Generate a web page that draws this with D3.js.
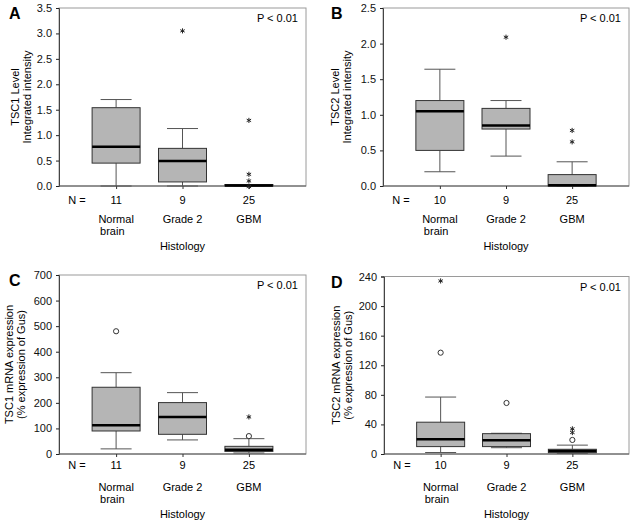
<!DOCTYPE html>
<html><head><meta charset="utf-8">
<script src="https://cdn.jsdelivr.net/npm/d3@7"></script>
<style>body{margin:0;background:#fff}svg{display:block;font-family:"Liberation Sans",Arial,sans-serif}</style>
</head><body>
<svg id="c" width="631" height="523"></svg>
<script>
// ---------- data ----------
const categories = [["Normal", "brain"], ["Grade 2"], ["GBM"]];
const xTitle = "Histology";
const pLabel = "P < 0.01";

// Panel A: TSC1 protein
const nA = [11, 9, 25];
const statsA = [ // [low whisker, q1, median, q3, high whisker]
  [0.0, 0.45, 0.77, 1.54, 1.70],
  [0.0, 0.08, 0.49, 0.74, 1.13],
  [0.0, 0.0, 0.01, 0.02, 0.02]
];
const outA = [[], [{v: 3.05, t: "*"}], [{v: 1.29, t: "*"}, {v: 0.23, t: "*"}, {v: 0.10, t: "*"}, {v: -0.01, t: "*"}]];
const ticksA = [0, 0.5, 1.0, 1.5, 2.0, 2.5, 3.0, 3.5];

// Panel B: TSC2 protein
const nB = [10, 9, 25];
const statsB = [
  [0.20, 0.50, 1.05, 1.20, 1.64],
  [0.42, 0.80, 0.85, 1.09, 1.20],
  [0.0, 0.0, 0.01, 0.16, 0.34]
];
const outB = [[], [{v: 2.09, t: "*"}], [{v: 0.78, t: "*"}, {v: 0.62, t: "*"}]];
const ticksB = [0, 0.5, 1.0, 1.5, 2.0, 2.5];

// Panel C: TSC1 mRNA
const nC = [11, 9, 25];
const statsC = [
  [20, 90, 112, 261, 318],
  [55, 77, 145, 201, 240],
  [4, 10, 17, 30, 60]
];
const outC = [[{v: 480, t: "o"}], [], [{v: 145, t: "*"}, {v: 70, t: "o"}]];
const ticksC = [0, 100, 200, 300, 400, 500, 600, 700];

// Panel D: TSC2 mRNA
const nD = [10, 9, 25];
const statsD = [
  [2, 10, 20, 43, 77],
  [8.5, 10, 18.5, 27.5, 28],
  [1, 1.8, 4, 6.4, 12]
];
const outD = [[{v: 234, t: "*"}, {v: 137, t: "o"}], [{v: 69, t: "o"}], [{v: 34, t: "*"}, {v: 29, t: "*"}, {v: 19, t: "o"}]];
const ticksD = [0, 40, 80, 120, 160, 200, 240];

// ---------- drawing ----------
const svg = d3.select("#c");

function panel(o) {
  const g = svg.append("g");
  const x = d3.scalePoint().domain(d3.range(categories.length)).range([o.left, o.right]).padding(0.86);
  const y = d3.scaleLinear().domain([0, o.max]).range([o.bottom, o.top]);
  const bw = 48, cw = 31;

  // frame
  g.append("rect").attr("x", o.left).attr("y", o.top).attr("width", o.right - o.left).attr("height", o.bottom - o.top)
    .attr("fill", "none").attr("stroke", "#9a9a9a").attr("stroke-width", 1);

  // y axis
  const ya = g.append("g").attr("transform", `translate(${o.left},0)`)
    .call(d3.axisLeft(y).tickValues(o.ticks).tickFormat(o.fmt).tickSize(3).tickPadding(4));
  ya.select(".domain").attr("stroke", "#444");
  ya.selectAll(".tick line").attr("stroke", "#222");
  ya.selectAll("text").attr("font-size", 11).attr("fill", "#111").attr("font-family", "Liberation Sans, Arial, sans-serif");

  // x axis
  const xa = g.append("g").attr("transform", `translate(0,${o.bottom})`)
    .call(d3.axisBottom(x).tickSize(3).tickFormat(""));
  xa.select(".domain").attr("stroke", "#555").attr("d", `M${o.left},0H${o.right}`);
  xa.selectAll(".tick line").attr("stroke", "#333");

  // boxes
  o.stats.forEach((s, i) => {
    const cx = x(i);
    const [lo, q1, med, q3, hi] = s;
    g.append("line").attr("x1", cx).attr("x2", cx).attr("y1", y(q3)).attr("y2", y(hi)).attr("stroke", "#555");
    g.append("line").attr("x1", cx).attr("x2", cx).attr("y1", y(q1)).attr("y2", y(lo)).attr("stroke", "#555");
    g.append("line").attr("x1", cx - cw / 2).attr("x2", cx + cw / 2).attr("y1", y(hi)).attr("y2", y(hi)).attr("stroke", "#555");
    g.append("line").attr("x1", cx - cw / 2).attr("x2", cx + cw / 2).attr("y1", y(lo)).attr("y2", y(lo)).attr("stroke", "#555");
    const h = Math.max(1.5, y(q1) - y(q3));
    g.append("rect").attr("x", cx - bw / 2).attr("y", y(q1) - h).attr("width", bw).attr("height", h)
      .attr("fill", "#b5b5b5").attr("stroke", "#333").attr("stroke-width", 1);
    g.append("line").attr("x1", cx - bw / 2).attr("x2", cx + bw / 2).attr("y1", y(med)).attr("y2", y(med))
      .attr("stroke", "#000").attr("stroke-width", 2.5);
    o.out[i].forEach(p => {
      if (p.t === "o") {
        g.append("circle").attr("cx", cx).attr("cy", y(p.v)).attr("r", 2.6).attr("fill", "#fff").attr("stroke", "#333");
      } else {
        g.append("path").attr("d", d3.symbol(d3.symbolAsterisk, 18)()).attr("transform", `translate(${cx},${y(p.v)})`)
          .attr("fill", "none").attr("stroke", "#222").attr("stroke-width", 1);
      }
    });
    // N
    g.append("text").attr("x", cx).attr("y", o.bottom + o.nOff).attr("text-anchor", "middle").attr("font-size", 11).text(o.n[i]);
    categories[i].forEach((line, k) => {
      g.append("text").attr("x", cx).attr("y", o.bottom + 37 + k * 12).attr("text-anchor", k === 0 ? "middle" : "start")
        .attr("dx", k === 0 ? 0 : -16).attr("font-size", 11).text(line);
    });
  });
  g.append("text").attr("x", o.left + 18).attr("y", o.bottom + o.nOff).attr("text-anchor", "middle").attr("font-size", 11).text("N =");
  g.append("text").attr("x", (o.left + o.right) / 2).attr("y", o.bottom + 64).attr("text-anchor", "middle").attr("font-size", 11).text(xTitle);
  g.append("text").attr("x", o.right - 8).attr("y", o.top + 14).attr("text-anchor", "end").attr("font-size", 11).text(pLabel);
  g.append("text").attr("x", o.letterX).attr("y", o.top + 11).attr("font-size", 16).attr("font-weight", "bold").text(o.letter);
  const cy = (o.top + o.bottom) / 2;
  o.ytitle.forEach((t, k) => {
    g.append("text").attr("transform", `translate(${o.ytx[k]},${cy}) rotate(-90)`).attr("text-anchor", "middle")
      .attr("font-size", 11).text(t);
  });
}

const f1 = d3.format(".1f"), f0 = d3.format("d");
panel({left: 59, right: 306, top: 8, bottom: 186, max: 3.5, ticks: ticksA, fmt: f1, stats: statsA, out: outA, n: nA, nOff: 18,
  letter: "A", letterX: 9, ytitle: ["TSC1 Level", "Integrated intensity"], ytx: [19, 31]});
panel({left: 383, right: 629, top: 8, bottom: 186, max: 2.5, ticks: ticksB, fmt: f1, stats: statsB, out: outB, n: nB, nOff: 18,
  letter: "B", letterX: 331, ytitle: ["TSC2 Level", "Integrated intensity"], ytx: [339, 351]});
panel({left: 59, right: 306, top: 275, bottom: 454, max: 700, ticks: ticksC, fmt: f0, stats: statsC, out: outC, n: nC, nOff: 15,
  letter: "C", letterX: 9, ytitle: ["TSC1 mRNA expression", "(% expression of Gus)"], ytx: [13, 25]});
panel({left: 384, right: 629, top: 276.5, bottom: 454, max: 240, ticks: ticksD, fmt: f0, stats: statsD, out: outD, n: nD, nOff: 15,
  letter: "D", letterX: 331, ytitle: ["TSC2 mRNA expression", "(% expression of Gus)"], ytx: [340, 352]});
</script>
</body></html>
